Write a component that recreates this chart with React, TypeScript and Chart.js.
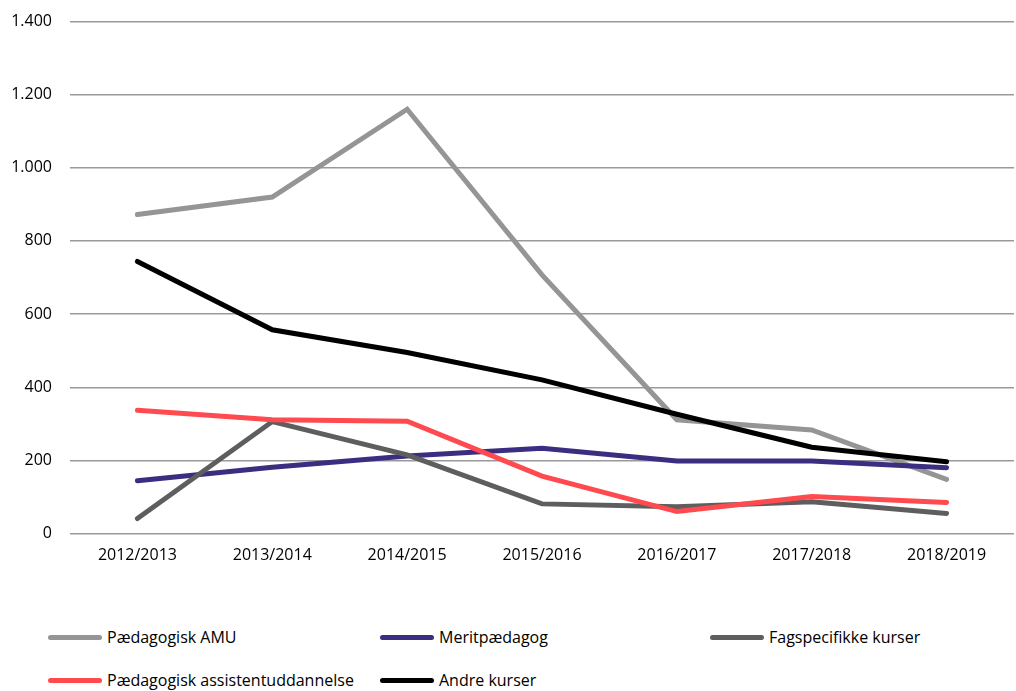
import React, { useEffect, useRef } from "react";
import { Chart, registerables } from "chart.js";

Chart.register(...registerables);

const categories = ["2012/2013", "2013/2014", "2014/2015", "2015/2016", "2016/2017", "2017/2018", "2018/2019"];
const paedagogiskAMU = [872, 920, 1160, 707, 311, 283, 148];
const meritpaedagog = [144, 181, 212, 233, 198, 198, 180];
const fagspecifikke = [41, 306, 215, 81, 73, 87, 55];
const assistentuddannelse = [337, 311, 307, 157, 60, 101, 85];
const andreKurser = [744, 557, 495, 420, 326, 236, 196];
const yTicks = [0, 200, 400, 600, 800, 1000, 1200, 1400];

const seriesNames = [
  "Pædagogisk AMU",
  "Meritpædagog",
  "Fagspecifikke kurser",
  "Pædagogisk assistentuddannelse",
  "Andre kurser",
];
const seriesColors = ["#959595", "#3b2e80", "#5e5e5e", "#ff4a4f", "#000000"];
const seriesValues = [paedagogiskAMU, meritpaedagog, fagspecifikke, assistentuddannelse, andreKurser];

const FONT = "'Open Sans', sans-serif";

export default function App() {
  const ref = useRef<HTMLCanvasElement | null>(null);

  useEffect(() => {
    if (!ref.current) return;
    const chart = new Chart(ref.current, {
      type: "line",
      data: {
        labels: categories,
        datasets: seriesValues.map((vals, i) => ({
          label: seriesNames[i],
          data: vals,
          borderColor: seriesColors[i],
          backgroundColor: seriesColors[i],
          borderWidth: 5,
          borderCapStyle: "round" as const,
          borderJoinStyle: "miter" as const,
          pointRadius: 0,
          tension: 0,
          fill: false,
          order: seriesValues.length - i,
        })),
      },
      options: {
        animation: false,
        responsive: false,
        maintainAspectRatio: false,
        layout: { padding: { top: 21.5, right: 2, left: 0, bottom: 0 } },
        plugins: {
          legend: { display: false },
          tooltip: { enabled: false },
        },
        scales: {
          x: {
            type: "category",
            offset: true,
            grid: { display: false, drawTicks: false },
            border: { display: false },
            ticks: {
              color: "#000",
              font: { family: FONT, size: 16 },
              padding: 12,
              maxRotation: 0,
              autoSkip: false,
            },
            afterFit: (s: any) => {
              s.height = 46.5;
              s.paddingLeft = 0;
              s.paddingRight = 0;
            },
          },
          y: {
            min: 0,
            max: 1400,
            afterBuildTicks: (s: any) => {
              s.ticks = yTicks.map((v) => ({ value: v }));
            },
            grid: { color: "#9a9a9a", lineWidth: 1.4, drawTicks: false },
            border: { display: false },
            ticks: {
              color: "#000",
              font: { family: FONT, size: 16 },
              padding: 18,
              callback: (v: any) => Number(v).toLocaleString("de-DE"),
            },
            afterFit: (s: any) => {
              s.width = 70;
              s.paddingTop = 0;
              s.paddingBottom = 0;
            },
          },
        },
      },
    });
    return () => chart.destroy();
  }, []);

  const positions = [
    [0, 0],
    [332, 0],
    [662, 0],
    [0, 43],
    [332, 43],
  ];

  return (
    <div style={{ position: "absolute", left: 0, top: 0, width: 1016, height: 691, background: "#fff", fontFamily: FONT }}>
      <canvas ref={ref} width={1016} height={580} style={{ position: "absolute", left: 0, top: 0, width: 1016, height: 580 }} />
      <div style={{ position: "absolute", left: 48, top: 616, width: 960 }}>
        {seriesNames.map((name, i) => {
          const [x, y] = positions[i];
          return (
            <div
              key={name}
              style={{
                position: "absolute",
                left: x,
                top: y,
                height: 42,
                display: "flex",
                alignItems: "center",
                whiteSpace: "nowrap",
                fontSize: 16,
                color: "#000",
              }}
            >
              <span
                style={{
                  display: "inline-block",
                  width: 54,
                  height: 5,
                  borderRadius: 3,
                  background: seriesColors[i],
                  marginRight: 5,
                }}
              />
              <span>{name}</span>
            </div>
          );
        })}
      </div>
    </div>
  );
}
